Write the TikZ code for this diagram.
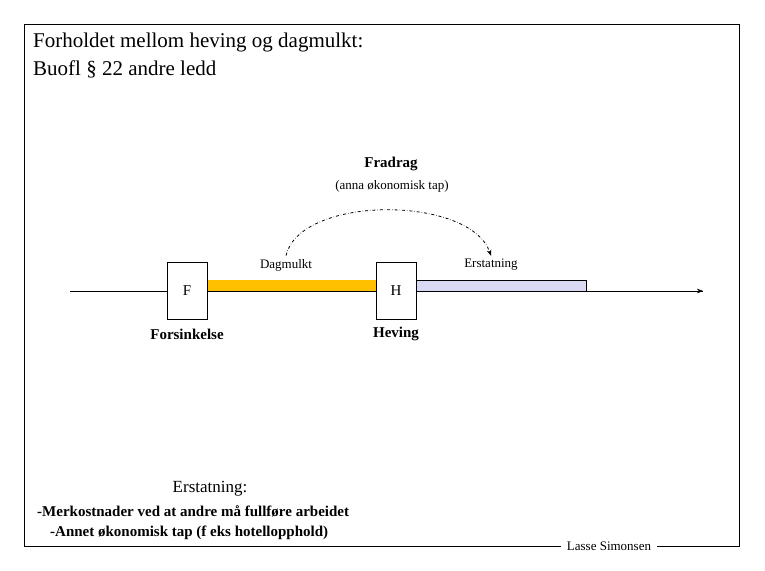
\documentclass[tikz,border=0pt]{standalone}
\usepackage{fontspec}
\setmainfont{Liberation Serif}
\usetikzlibrary{arrows.meta}
\definecolor{dagorange}{RGB}{255,192,0}
\definecolor{erslilla}{RGB}{217,217,243}

\begin{document}
\begin{tikzpicture}
[
x=1pt,y=-1pt,
event/.style={draw,fill=white,minimum width=40pt,minimum height=57pt,inner sep=0pt,font=\fontsize{15}{18}\selectfont},
small/.style={font=\fontsize{13}{15}\selectfont},
]
\useasboundingbox (0,0) rectangle (765,570);

%Frame and signature
\draw (24,24) rectangle (739,546);
\node[small,fill=white,inner sep=6pt] (sign) at (609,546) {Lasse Simonsen};

%Title
\node[anchor=north west,align=left,font=\fontsize{21}{28}\selectfont,inner sep=0pt] (title) at (33,33)
  {Forholdet mellom heving og dagmulkt:\\Buofl § 22 andre ledd};

%Time axis and bars
\coordinate (start) at (70,291);
\coordinate (end) at (703,291);
\draw[-{Stealth[length=6pt]}] (start) -- (end);
\fill[dagorange] (207,280) rectangle (376,291);
\draw[fill=erslilla] (416,280) rectangle (586,291);
\draw (start) -- (end);

%Place the nodes
\node[event] (F) at (187,290.5) {F};
\node[event] (H) at (396,290.5) {H};
\node[font=\fontsize{15}{18}\selectfont\bfseries] (fors) at (187,334) {Forsinkelse};
\node[font=\fontsize{15}{18}\selectfont\bfseries] (hev) at (396,334) {Heving};
\node[small] (dag) at (286,265) {Dagmulkt};
\node[small] (ers) at (491,265) {Erstatning};
\node[font=\fontsize{15}{18}\selectfont\bfseries] (fradrag) at (391,164) {Fradrag};
\node[small] (tap) at (392,186) {(anna økonomisk tap)};

%Draw the arc
\draw[dash dot,thick,-{Stealth[length=6pt]}] (dag.north) .. controls (300,195) and (470,195) .. (ers.north);

%Bottom text
\node[font=\fontsize{17}{20}\selectfont] (erst) at (210,489) {Erstatning:};
\node[anchor=west,font=\fontsize{15}{18}\selectfont\bfseries,inner sep=0pt] (l1) at (37,511) {-Merkostnader ved at andre må fullføre arbeidet};
\node[anchor=west,font=\fontsize{15}{18}\selectfont\bfseries,inner sep=0pt] (l2) at (50,533) {-Annet økonomisk tap (f eks hotellopphold)};
\end{tikzpicture}
\end{document}
